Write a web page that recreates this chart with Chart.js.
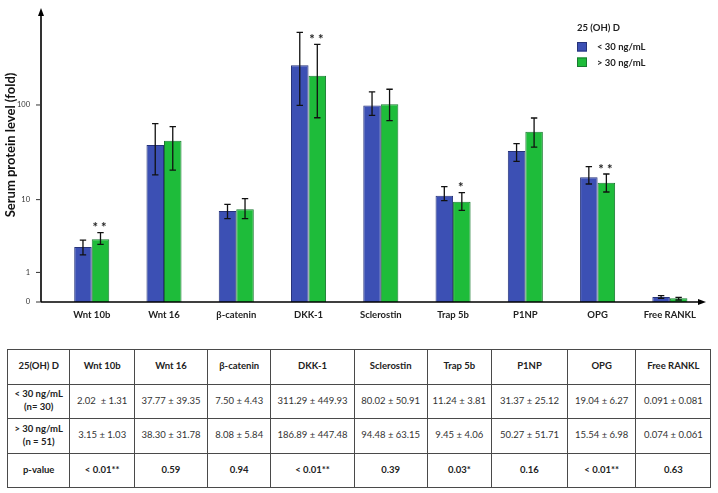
<!DOCTYPE html>
<html>
<head>
<meta charset="utf-8">
<script src="https://cdn.jsdelivr.net/npm/chart.js@4/dist/chart.umd.min.js"></script>
<style>
  html,body{margin:0;padding:0;background:#fff;}
  body{width:718px;height:493px;position:relative;overflow:hidden;font-family:Lato,"Noto Sans",sans-serif;}
  #wrap{position:absolute;left:0;top:0;width:718px;height:330px;}
  table{position:absolute;left:7px;top:349px;border-collapse:collapse;table-layout:fixed;}
  td{border:1px solid #4a4a4a;text-align:center;vertical-align:middle;height:33.5px;padding:0;font-size:9.5px;color:#333;line-height:1.35;}
  tr.head td, td.first, tr.pv td{font-weight:bold;color:#222;}
</style>
</head>
<body>
<div id="wrap"><canvas id="c" width="718" height="330"></canvas></div>
<table id="tbl"></table>
<script>
// ---- data ----
const categories = ['Wnt 10b','Wnt 16','β-catenin','DKK-1','Sclerostin','Trap 5b','P1NP','OPG','Free RANKL'];
const seriesLabels = ['< 30 ng/mL','> 30 ng/mL'];
const legendTitle = '25 (OH) D';
const lowVit = [2.63, 38.5, 7.43, 255, 99, 11.06, 33.4, 17.56, 0.124];
const lowVitErrLow = [2.01, 18.6, 6.04, 99, 78.3, 9.73, 26.0, 14.86, 0.090];
const lowVitErrHigh = [3.27, 64.1, 8.86, 553, 136, 13.9, 39.8, 22.8, 0.159];
const highVit = [3.34, 42.7, 7.77, 199.5, 101.6, 9.48, 53.0, 15.35, 0.090];
const highVitErrLow = [2.86, 21.0, 6.04, 73.9, 69, 7.57, 36.7, 12.15, 0.048];
const highVitErrHigh = [4.07, 59.7, 10.24, 417, 145, 11.94, 73.4, 19.04, 0.116];
const significance = ['**','','','**','','*','','**',''];
const yTickValues = [0, 1, 10, 100];
const yTickLabels = ['0','1','10','100'];
const yAxisTitle = 'Serum protein level (fold)';

// table data
const tableHeader = ['25(OH) D','Wnt 10b','Wnt 16','β-catenin','DKK-1','Sclerostin','Trap 5b','P1NP','OPG','Free RANKL'];
const rowLowLabel = ['< 30 ng/mL','(n= 30)'];
const rowLowValues = ['2.02 &nbsp;± 1.31','37.77 ± 39.35','7.50 ± 4.43','311.29 ± 449.93','80.02 ± 50.91','11.24 ± 3.81','31.37 ± 25.12','19.04 ± 6.27','0.091 ± 0.081'];
const rowHighLabel = ['> 30 ng/mL','(n = 51)'];
const rowHighValues = ['3.15 ± 1.03','38.30 ± 31.78','8.08 ± 5.84','186.89 ± 447.48','94.48 ± 63.15','9.45 ± 4.06','50.27 ± 51.71','15.54 ± 6.98','0.074 ± 0.061'];
const pValues = ['< 0.01**','0.59','0.94','< 0.01**','0.39','0.03*','0.16','< 0.01**','0.63'];
const colWidths = [62.4,64.6,73,63.4,83.3,73,64.3,76,68.4,75];

// ---- build table ----
(function(){
  const t = document.getElementById('tbl');
  let h = '<colgroup>' + colWidths.map(w=>'<col style="width:'+w+'px">').join('') + '</colgroup>';
  h += '<tr class="head">' + tableHeader.map(s=>'<td>'+s+'</td>').join('') + '</tr>';
  h += '<tr><td class="first">'+rowLowLabel.join('<br>')+'</td>' + rowLowValues.map(s=>'<td>'+s+'</td>').join('') + '</tr>';
  h += '<tr><td class="first">'+rowHighLabel.join('<br>')+'</td>' + rowHighValues.map(s=>'<td>'+s+'</td>').join('') + '</tr>';
  h += '<tr class="pv"><td>p-value</td>' + pValues.map(s=>'<td>'+s+'</td>').join('') + '</tr>';
  t.innerHTML = h;
  t.style.width = colWidths.reduce((a,b)=>a+b,0)+'px';
})();

// ---- scale transform: log10(x+1) ----
const tf = v => Math.log10(v + 1);

const FONT = 'Lato, "Noto Sans", sans-serif';
const AXIS_OFFSET = 14.6; // gap between drawn y axis line and first category area

const errLow = [lowVitErrLow, highVitErrLow];
const errHigh = [lowVitErrHigh, highVitErrHigh];

const decorPlugin = {
  id: 'decor',
  afterDatasetsDraw(chart) {
    const ctx = chart.ctx;
    const ys = chart.scales.y;
    const ca = chart.chartArea;
    ctx.save();
    // error bars
    ctx.strokeStyle = '#111';
    ctx.lineWidth = 1.3;
    chart.data.datasets.forEach((ds, di) => {
      const meta = chart.getDatasetMeta(di);
      meta.data.forEach((el, j) => {
        const yl = ys.getPixelForValue(tf(errLow[di][j]));
        const yh = ys.getPixelForValue(tf(errHigh[di][j]));
        const x = el.x;
        const cw = 3.2;
        ctx.beginPath();
        ctx.moveTo(x, yl); ctx.lineTo(x, yh);
        ctx.moveTo(x - cw, yl); ctx.lineTo(x + cw, yl);
        ctx.moveTo(x - cw, yh); ctx.lineTo(x + cw, yh);
        ctx.stroke();
      });
    });
    // significance stars above second series
    const meta1 = chart.getDatasetMeta(1);
    ctx.fillStyle = '#222';
    ctx.font = 'bold 13px ' + FONT;
    ctx.textAlign = 'center';
    ctx.textBaseline = 'alphabetic';
    significance.forEach((s, j) => {
      if (!s) return;
      const el = meta1.data[j];
      const yh = ys.getPixelForValue(tf(errHigh[1][j]));
      ctx.fillText(s.split('').join(' '), el.x - 1, yh - 0.5);
    });
    // axes
    const ax = ca.left - AXIS_OFFSET;
    const y0 = ys.getPixelForValue(0);
    ctx.strokeStyle = '#000';
    ctx.fillStyle = '#000';
    ctx.lineWidth = 1.6;
    ctx.beginPath();
    ctx.moveTo(ax, y0); ctx.lineTo(ax, ca.top + 6);
    ctx.moveTo(ax, y0); ctx.lineTo(ca.right - 6, y0);
    ctx.stroke();
    // arrowheads
    ctx.beginPath();
    ctx.moveTo(ax, ca.top); ctx.lineTo(ax - 3, ca.top + 8); ctx.lineTo(ax + 3, ca.top + 8); ctx.closePath();
    ctx.fill();
    ctx.beginPath();
    ctx.moveTo(ca.right, y0); ctx.lineTo(ca.right - 8, y0 - 3); ctx.lineTo(ca.right - 8, y0 + 3); ctx.closePath();
    ctx.fill();
    // y tick marks
    ctx.lineWidth = 1;
    ctx.strokeStyle = '#333';
    yTickValues.forEach(v => {
      const y = ys.getPixelForValue(tf(v));
      ctx.beginPath(); ctx.moveTo(ax - 5, y); ctx.lineTo(ax, y); ctx.stroke();
    });
    // y axis title
    ctx.save();
    ctx.translate(11, 145);
    ctx.rotate(-Math.PI / 2);
    ctx.font = 'bold 13px ' + FONT;
    ctx.fillStyle = '#111';
    ctx.textAlign = 'center';
    ctx.textBaseline = 'middle';
    ctx.fillText(yAxisTitle, 0, 0);
    ctx.restore();
    // legend
    const lx = 577, ly = 28;
    ctx.font = 'bold 9.5px ' + FONT;
    ctx.fillStyle = '#222';
    ctx.textAlign = 'left';
    ctx.textBaseline = 'middle';
    ctx.fillText(legendTitle, lx, ly);
    chart.data.datasets.forEach((ds, di) => {
      const by = 42 + di * 15.5;
      ctx.fillStyle = ds.backgroundColor;
      ctx.fillRect(lx, by, 10, 9.5);
      ctx.strokeStyle = ds.borderColor;
      ctx.lineWidth = 1;
      ctx.strokeRect(lx + 0.5, by + 0.5, 9, 8.5);
      ctx.fillStyle = '#222';
      ctx.font = 'bold 9.5px ' + FONT;
      ctx.fillText(ds.label, lx + 20, by + 5);
    });
    ctx.restore();
  }
};

new Chart(document.getElementById('c'), {
  type: 'bar',
  data: {
    labels: categories,
    datasets: [
      { label: seriesLabels[0], data: lowVit.map(tf), backgroundColor: '#3c50b4', borderColor: '#26337a', borderWidth: 1 },
      { label: seriesLabels[1], data: highVit.map(tf), backgroundColor: '#1ebc3a', borderColor: '#197a30', borderWidth: 1 }
    ]
  },
  options: {
    responsive: false,
    animation: false,
    layout: { padding: { top: 8, right: 12, left: 0, bottom: 0 } },
    plugins: { legend: { display: false }, tooltip: { enabled: false } },
    datasets: { bar: { categoryPercentage: 0.485, barPercentage: 1.0 } },
    scales: {
      x: {
        grid: { display: false, drawTicks: false },
        border: { display: false },
        ticks: { font: { family: FONT, size: 9.5, weight: 'bold' }, color: '#222', padding: 7, maxRotation: 0, autoSkip: false },
        afterFit(s) { s.height = 28; s.paddingLeft = 0; s.paddingRight = 0; }
      },
      y: {
        min: 0,
        max: (302 - 8) / 98.3,
        grid: { display: false, drawTicks: false },
        border: { display: false },
        afterBuildTicks(s) { s.ticks = yTickValues.map(v => ({ value: tf(v) })); },
        ticks: {
          font: { family: FONT, size: 7.5 },
          color: '#333',
          padding: 25.6,
          callback: (val, idx) => yTickLabels[idx]
        },
        afterFit(s) { s.width = 55.6; s.paddingTop = 0; s.paddingBottom = 0; }
      }
    }
  },
  plugins: [decorPlugin]
});
</script>
</body>
</html>
